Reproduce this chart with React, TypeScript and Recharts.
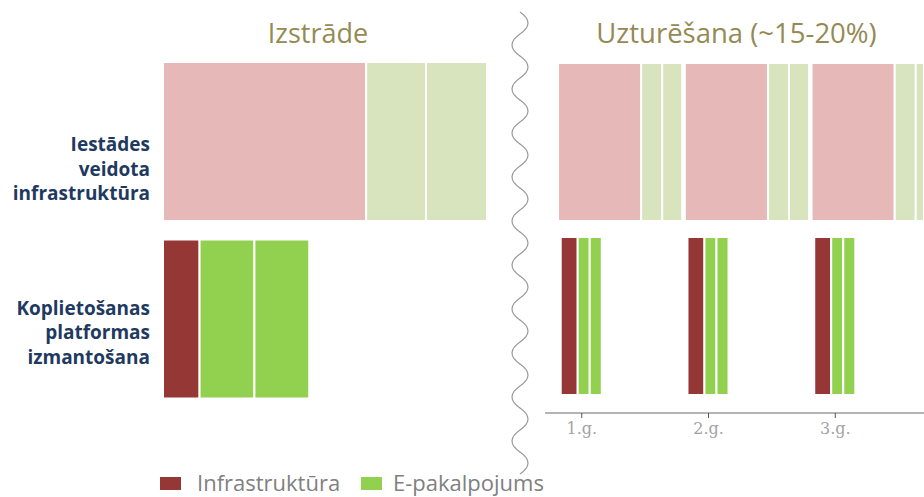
import { Bar, BarChart, Cell, XAxis, YAxis } from 'recharts'

const ROWS = ['Iestādes veidota infrastruktūra', 'Koplietošanas platformas izmantošana']
const ROW_LINES = [
  ['Iestādes', 'veidota', 'infrastruktūra'],
  ['Koplietošanas', 'platformas', 'izmantošana'],
]

// Izstrāde – relative cost (own infrastructure = 100)
const DEV_INFRA = [100, 18]
const DEV_E1 = [29.5, 27]
const DEV_E2 = [30, 27]

// Uzturēšana – share of each year
const YEAR_TICKS = [1, 2, 3]
const MAINT_START = [0.813, 0.834]
const MAINT_INFRA = [0.656, 0.134]
const MAINT_E1 = [0.166, 0.095]
const MAINT_E2 = [0.158, 0.095]

const LEGEND = [
  { name: 'Infrastruktūra', color: '#953735' },
  { name: 'E-pakalpojums', color: '#92D050' },
]

const INFRA_FILL = ['#E6B9B8', '#953735']
const E_FILL = ['#D7E4BD', '#92D050']
const LABEL_SHIFT = [34, 20]
const FONT = '"Open Sans", sans-serif'

const devData = ROWS.map((name, i) => ({
  name,
  infra: DEV_INFRA[i],
  e1: DEV_E1[i],
  e2: DEV_E2[i],
}))

const maintData = ROWS.map((name, i) => {
  const row: Record<string, string | number> = { name, start: MAINT_START[i] }
  YEAR_TICKS.forEach((y) => {
    row[`infra${y}`] = MAINT_INFRA[i]
    row[`e1_${y}`] = MAINT_E1[i]
    row[`e2_${y}`] = MAINT_E2[i]
    row[`gap${y}`] = 1 - MAINT_INFRA[i] - MAINT_E1[i] - MAINT_E2[i]
  })
  return row
})

function RowLabel(props: any) {
  const { x, y, payload, index } = props
  const lines = ROW_LINES[ROWS.indexOf(payload.value)]
  return (
    <text textAnchor="end" fill="#1F3A60" fontFamily={FONT} fontWeight={700} fontSize={19}>
      {lines.map((l, k) => (
        <tspan key={k} x={x} y={y + LABEL_SHIFT[index] + (k - 1) * 24.5}>
          {l}
        </tspan>
      ))}
    </text>
  )
}

function fills(colors: string[]) {
  return ROWS.map((r, i) => <Cell key={r} fill={colors[i]} />)
}

function segment(key: string, colors: string[] | null) {
  if (!colors) {
    return <Bar key={key} dataKey={key} stackId="s" fill="transparent" isAnimationActive={false} />
  }
  return (
    <Bar key={key} dataKey={key} stackId="s" stroke="#fff" strokeWidth={2} isAnimationActive={false}>
      {fills(colors)}
    </Bar>
  )
}

export default function App() {
  const maintBars = [segment('start', null)]
  YEAR_TICKS.forEach((y) => {
    maintBars.push(segment(`infra${y}`, INFRA_FILL))
    maintBars.push(segment(`e1_${y}`, E_FILL))
    maintBars.push(segment(`e2_${y}`, E_FILL))
    maintBars.push(segment(`gap${y}`, null))
  })

  return (
    <div style={{ position: 'absolute', left: 0, top: 0, width: 924, height: 497, background: '#fff', overflow: 'hidden' }}>
      <div style={{ position: 'absolute', left: 0, top: 0 }}>
        <BarChart
          width={488}
          height={497}
          layout="vertical"
          data={devData}
          margin={{ top: 53, right: 0, bottom: 89, left: 0 }}
          barSize={159}
        >
          <XAxis type="number" domain={[0, 160]} hide />
          <YAxis
            type="category"
            dataKey="name"
            width={163}
            axisLine={false}
            tickLine={false}
            tickSize={0}
            tickMargin={13}
            interval={0}
            tick={(p: any) => <RowLabel {...p} />}
          />
          {segment('infra', INFRA_FILL)}
          {segment('e1', E_FILL)}
          {segment('e2', E_FILL)}
        </BarChart>
      </div>

      <div style={{ position: 'absolute', left: 545, top: 0 }}>
        <BarChart
          width={379}
          height={497}
          layout="vertical"
          data={maintData}
          margin={{ top: 55, right: 0, bottom: 54, left: 0 }}
          barSize={158}
        >
          <XAxis
            type="number"
            domain={[0.71, 3.7]}
            allowDataOverflow
            ticks={YEAR_TICKS}
            tickFormatter={(v: number) => `${v}.g.`}
            axisLine={{ stroke: '#6b6b6b' }}
            tickLine={{ stroke: '#555' }}
            tickSize={5}
            tickMargin={5}
            tick={{ fill: '#a3a3a3', fontSize: 16, fontFamily: '"DejaVu Serif", serif' }}
          />
          <YAxis type="category" dataKey="name" hide padding={{ top: 0, bottom: 10 }} />
          {maintBars}
        </BarChart>
      </div>

      <svg width={924} height={497} style={{ position: 'absolute', left: 0, top: 0, pointerEvents: 'none' }}>
        <text x={318} y={43} textAnchor="middle" fontFamily={FONT} fontSize={27} fill="#948A54">
          Izstrāde
        </text>
        <text x={736.5} y={43} textAnchor="middle" fontFamily={FONT} fontSize={27.5} fill="#948A54">
          Uzturēšana (~15-20%)
        </text>
        <path
          d={`M520,12 q16,11 0,22 ${'t0,22 '.repeat(20)}`}
          fill="none"
          stroke="#9a9a9a"
          strokeWidth={1.2}
        />
        {LEGEND.map((item, i) => (
          <g key={item.name}>
            <rect x={160 + i * 201} y={477} width={21} height={13} fill={item.color} />
            <text x={197 + i * 196} y={491} fontFamily={FONT} fontSize={22} fill="#808080">
              {item.name}
            </text>
          </g>
        ))}
      </svg>
    </div>
  )
}
